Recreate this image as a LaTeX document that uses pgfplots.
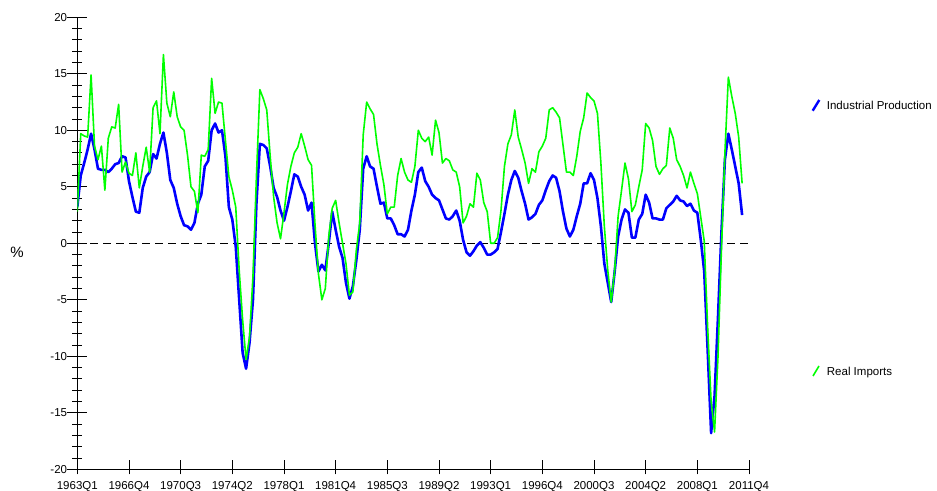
\documentclass[border=0pt]{standalone}
\usepackage{pgfplots}
\pgfplotsset{compat=1.18}
\usepackage{pgfplotstable}
\usepackage{fontspec}
\setmainfont{Liberation Sans}
\definecolor{ipblue}{RGB}{0,0,255}
\definecolor{imgreen}{RGB}{0,255,0}

% Year-on-year growth, quarter index 0 = 1963Q1
\pgfplotstableread{
q ip im
0 3.2 2.8
1 6.0 9.7
2 7.1 9.5
3 8.3 9.4
4 9.7 14.9
5 8.3 8.6
6 6.6 7.4
7 6.5 8.6
8 6.5 4.7
9 6.3 9.3
10 6.6 10.3
11 7.0 10.2
12 7.1 12.3
13 7.7 6.3
14 7.6 7.2
15 5.5 6.2
16 4.1 6.0
17 2.8 8.0
18 2.7 4.9
19 4.9 6.8
20 5.9 8.5
21 6.3 6.3
22 7.9 12.0
23 7.5 12.6
24 8.8 9.7
25 9.8 16.7
26 8.0 12.4
27 5.6 11.2
28 4.9 13.4
29 3.5 11.2
30 2.4 10.3
31 1.6 10.0
32 1.5 7.8
33 1.2 5.0
34 1.8 4.6
35 3.5 2.7
36 4.3 7.8
37 6.8 7.7
38 7.3 8.3
39 10.0 14.6
40 10.6 11.5
41 9.8 12.5
42 10.0 12.4
43 7.7 9.1
44 3.2 5.9
45 2.1 4.7
46 -0.3 3.2
47 -5.0 -2.4
48 -9.7 -6.8
49 -11.1 -10.3
50 -8.8 -8.3
51 -5.0 -2.9
52 3.5 5.9
53 8.8 13.6
54 8.7 12.8
55 8.4 11.8
56 6.8 7.7
57 4.9 4.1
58 4.1 1.8
59 2.9 0.4
60 2.0 2.7
61 3.2 5.2
62 4.6 6.8
63 6.1 8.0
64 5.9 8.5
65 5.0 9.7
66 4.3 8.6
67 2.9 7.4
68 3.6 6.9
69 0.0 1.7
70 -2.5 -2.7
71 -1.9 -5.0
72 -2.4 -4.0
73 0.0 0.6
74 2.8 3.1
75 1.2 3.8
76 -0.3 1.8
77 -1.3 0.0
78 -3.5 -1.8
79 -4.9 -4.6
80 -3.8 -4.3
81 -1.5 -0.6
82 1.2 1.8
83 6.6 9.6
84 7.7 12.5
85 6.8 11.9
86 6.6 11.4
87 5.0 8.8
88 3.5 6.9
89 3.6 5.2
90 2.2 2.6
91 2.2 3.2
92 1.6 3.2
93 0.8 6.0
94 0.8 7.5
95 0.6 6.3
96 1.2 5.6
97 2.9 5.4
98 4.3 6.8
99 6.3 10.0
100 6.7 9.3
101 5.5 9.0
102 5.0 9.4
103 4.3 7.8
104 4.0 10.9
105 3.8 9.8
106 3.0 7.1
107 2.2 7.5
108 2.1 7.3
109 2.4 6.5
110 2.9 6.3
111 2.0 5.0
112 0.3 1.8
113 -0.8 2.4
114 -1.1 3.5
115 -0.7 3.2
116 -0.2 6.2
117 0.1 5.6
118 -0.4 3.6
119 -1.0 2.8
120 -1.0 0.0
121 -0.8 0.0
122 -0.5 0.5
123 1.0 2.9
124 2.6 6.8
125 4.3 8.8
126 5.6 9.6
127 6.4 11.8
128 5.8 9.4
129 4.6 8.3
130 3.5 7.1
131 2.1 5.3
132 2.3 6.6
133 2.6 6.3
134 3.4 8.1
135 3.8 8.6
136 4.7 9.3
137 5.5 11.8
138 6.0 12.0
139 5.8 11.6
140 4.6 11.1
141 2.8 8.7
142 1.3 6.3
143 0.6 6.3
144 1.2 6.0
145 2.4 7.7
146 3.5 9.9
147 5.3 11.1
148 5.3 13.3
149 6.2 12.9
150 5.6 12.6
151 4.0 11.5
152 1.5 7.1
153 -1.8 1.5
154 -3.5 -2.4
155 -5.2 -5.2
156 -2.5 -2.4
157 0.6 2.4
158 2.1 4.7
159 3.0 7.1
160 2.7 5.7
161 0.5 2.8
162 0.5 3.4
163 2.1 5.0
164 2.6 6.5
165 4.3 10.6
166 3.6 10.2
167 2.2 9.1
168 2.2 6.8
169 2.1 6.1
170 2.1 6.6
171 3.1 6.9
172 3.4 10.2
173 3.7 9.3
174 4.2 7.4
175 3.8 6.8
176 3.7 6.0
177 3.3 4.9
178 3.5 6.3
179 2.9 5.3
180 2.7 4.4
181 0.3 2.3
182 -2.5 0.2
183 -9.5 -7.5
184 -16.8 -14.0
185 -13.5 -16.7
186 -6.5 -10.0
187 1.0 -0.5
188 7.4 8.0
189 9.7 14.7
190 8.3 13.0
191 6.8 11.5
192 5.3 9.4
193 2.5 5.3
}\growth

\begin{document}
\begin{tikzpicture}[x=1bp,y=1bp]
\useasboundingbox (0,0) rectangle (937,491);
\begin{axis}[
  at={(77.3bp,21.7bp)}, anchor=south west,
  scale only axis, width=671.7bp, height=452bp,
  xmin=0, xmax=195, ymin=-20, ymax=20,
  axis x line=bottom, axis y line=left,
  axis line style={-, black, line width=0.9bp},
  xtick={0,15,...,195},
  xticklabels={1963Q1,1966Q4,1970Q3,1974Q2,1978Q1,1981Q4,1985Q3,1989Q2,1993Q1,1996Q4,2000Q3,2004Q2,2008Q1,2011Q4},
  ytick={-20,-15,...,20},
  yticklabels={-20,-15,-10,-5,0,5,10,15,20},
  minor ytick={-19,...,19},
  tick align=center,
  major tick length=20bp,
  minor tick length=10bp,
  tick style={black, line width=0.9bp},
  xtick style={/pgfplots/major tick length=14bp, yshift=2bp},
  tick label style={font=\fontsize{11.5bp}{13bp}\selectfont, inner sep=0pt},
  yticklabel style={anchor=east},
  xticklabel style={anchor=north, yshift=-1.6bp},
  every axis y label/.style={at={(axis description cs:-0.0898,0.4808)}, anchor=center},
  ylabel={\fontsize{15bp}{17bp}\selectfont\%},
]
\addplot[black, line width=0.8bp, dash pattern=on 8bp off 5bp] coordinates {(0,0) (195,0)};
\addplot[ipblue, line width=2.6bp, line join=round] table[x=q, y=ip] {\growth};
\addplot[imgreen, line width=1.6bp, line join=round] table[x=q, y=im] {\growth};
\end{axis}
% legend entries
\draw[ipblue, line width=2.4bp] (812.7,380.3) -- (819.3,391);
\node[anchor=base west, inner sep=0pt, font=\fontsize{11.5bp}{13bp}\selectfont] at (826.7,381.9) {Industrial Production};
\draw[imgreen, line width=1.6bp] (813,115) -- (819,125);
\node[anchor=base west, inner sep=0pt, font=\fontsize{11.5bp}{13bp}\selectfont] at (826.7,115.9) {Real Imports};
\end{tikzpicture}
\end{document}
